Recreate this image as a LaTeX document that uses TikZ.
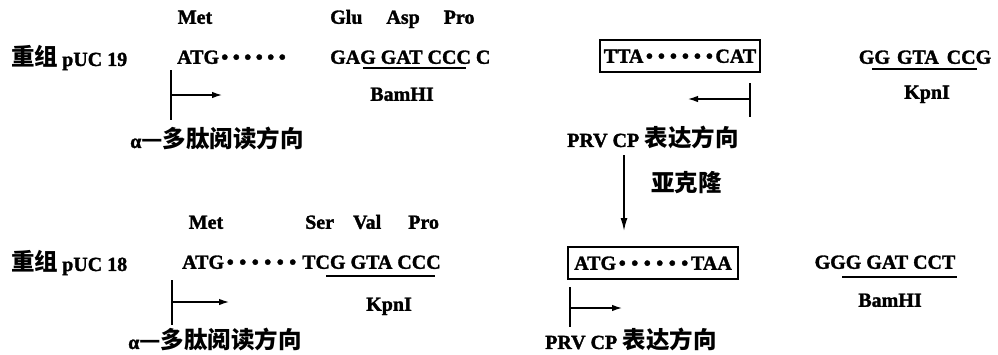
\documentclass[tikz,border=0pt]{standalone}
\usepackage{fontspec}
\setmainfont{Liberation Serif}[BoldFeatures={FakeBold=1.6}]
\newfontfamily\cjk{Noto Sans CJK SC}
\usetikzlibrary{arrows.meta}
\newcommand\latn[1]{{\fontsize{20}{22}\selectfont\rmfamily\bfseries #1}}
\newcommand\bdot[1]{\makebox[#1]{\textbullet}}
\newcommand\sixd[1]{\bdot{#1}\bdot{#1}\bdot{#1}\bdot{#1}\bdot{#1}\bdot{#1}}
\tikzset{
  lat/.style={font=\fontsize{20}{22}\selectfont\bfseries, inner sep=0pt, text height=13.5pt, text depth=0pt},
  cjkl/.style={font=\fontsize{23.5}{26}\selectfont\cjk\bfseries, inner sep=0pt, text height=19.5pt, text depth=1.6pt},
  seqbox/.style={draw, line width=1.1pt, inner sep=0pt},
  uline/.style={line width=1.3pt},
  bar/.style={line width=1.6pt},
  dirarrow/.style={line width=1.3pt, -{Latex[length=10pt,width=6.5pt]}}
}
\begin{document}
\begin{tikzpicture}[x=1pt,y=-1pt]
\useasboundingbox (0,0) rectangle (998,354);
% ---------- row 1 ----------
\node[lat] (met1) at (195,17) {Met};
\node[lat, anchor=west] (aa1) at (330,17) {Glu\hspace{24pt}Asp\hspace{24pt}Pro};
\node[cjkl, anchor=west] (puc19) at (11,57) {重组\hspace{4pt}\latn{pUC 19}};
\node[lat, anchor=west] (atg1) at (177,57) {ATG\sixd{11.5pt}};
\node[lat, anchor=west] (bam1seq) at (330,57) {GAG GAT CCC C};
\coordinate (ub1a) at (363,68); \coordinate (ub1b) at (466,68);
\draw[uline] (ub1a) -- (ub1b);
\node[lat] (bam1) at (402,94) {BamHI};
\coordinate (b1t) at (171,70); \coordinate (b1b) at (171,120);
\coordinate (a1s) at (171,95); \coordinate (a1e) at (222,95);
\draw[bar] (b1t) -- (b1b);
\draw[dirarrow] (a1s) -- (a1e);
\node[cjkl, anchor=west] (alpha1) at (130,139) {\latn{α}—多肽阅读方向};
\node[lat, seqbox, minimum width=160pt, minimum height=32pt] (box1) at (680,56) {TTA\sixd{12pt}CAT};
\coordinate (b2t) at (750,83); \coordinate (b2b) at (750,117);
\coordinate (a2s) at (750,99); \coordinate (a2e) at (688,99);
\draw[bar] (b2t) -- (b2b);
\draw[dirarrow] (a2s) -- (a2e);
\node[cjkl, anchor=west] (prv1) at (567,138) {\latn{PRV CP} 表达方向};
\node[lat] (kpn1seq) at (925,57) {GG\hspace{7pt}GTA\hspace{8pt}CCG};
\coordinate (uk1a) at (872,69); \coordinate (uk1b) at (977,69);
\draw[uline] (uk1a) -- (uk1b);
\node[lat] (kpn1) at (927,92) {KpnI};
% ---------- subcloning ----------
\coordinate (sc1) at (624,155); \coordinate (sc2) at (624,231);
\draw[line width=1.6pt, -{Latex[length=13pt,width=7pt]}] (sc1) -- (sc2);
\node[cjkl, anchor=west] (sub) at (651,183) {亚克隆};
% ---------- row 2 ----------
\node[lat] (met2) at (206,222) {Met};
\node[lat, anchor=west] (aa2) at (305,222) {Ser\hspace{19pt}Val\hspace{27pt}Pro};
\node[cjkl, anchor=west] (puc18) at (11,262) {重组\hspace{4pt}\latn{pUC 18}};
\node[lat, anchor=west] (atg2) at (182,262) {ATG\sixd{12.5pt}};
\node[lat, anchor=west] (kpn2seq) at (302,262) {TCG GTA CCC};
\coordinate (uk2a) at (326,276); \coordinate (uk2b) at (435,276);
\draw[uline] (uk2a) -- (uk2b);
\node[lat] (kpn2) at (389,304) {KpnI};
\coordinate (b3t) at (172,280); \coordinate (b3b) at (172,325);
\coordinate (a3s) at (172,302); \coordinate (a3e) at (229,302);
\draw[bar] (b3t) -- (b3b);
\draw[dirarrow] (a3s) -- (a3e);
\node[cjkl, anchor=west] (alpha2) at (128,340) {\latn{α}—多肽阅读方向};
\node[lat, seqbox, minimum width=170pt, minimum height=32pt] (box2) at (653,263) {ATG\sixd{12.5pt}TAA};
\coordinate (b4t) at (570,287); \coordinate (b4b) at (570,327);
\coordinate (a4s) at (570,308); \coordinate (a4e) at (622,308);
\draw[bar] (b4t) -- (b4b);
\draw[dirarrow] (a4s) -- (a4e);
\node[cjkl, anchor=west] (prv2) at (545,340) {\latn{PRV CP} 表达方向};
\node[lat] (bam2seq) at (885,262) {GGG GAT CCT};
\coordinate (ub2a) at (842,277); \coordinate (ub2b) at (957,277);
\draw[uline] (ub2a) -- (ub2b);
\node[lat] (bam2) at (890,300) {BamHI};
\end{tikzpicture}
\end{document}
